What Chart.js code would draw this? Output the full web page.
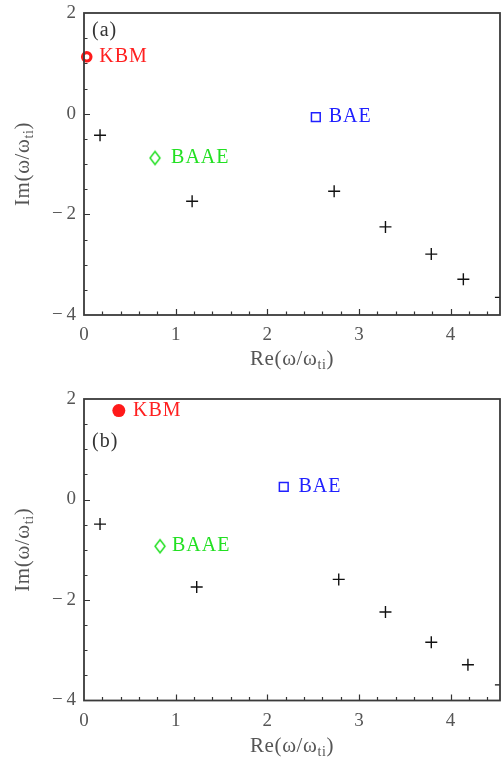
<!DOCTYPE html>
<html>
<head>
<meta charset="utf-8">
<script src="https://cdn.jsdelivr.net/npm/chart.js@4"></script>
<style>
  body { margin: 0; background: #fff; }
  .panel { position: absolute; left: 0; width: 503px; }
</style>
</head>
<body>
<div class="panel" style="top:0;height:380px"><canvas id="chartA" width="503" height="380"></canvas></div>
<div class="panel" style="top:380px;height:378px"><canvas id="chartB" width="503" height="378"></canvas></div>
<script>
// panel (a)
const kbmA = [{ x: 0.03, y: 1.13 }];
const baeA = [{ x: 2.53, y: -0.07 }];
const baaeA = [{ x: 0.775, y: -0.88 }];
const crossA = [
  { x: 0.175, y: -0.43 }, { x: 1.18, y: -1.74 }, { x: 2.73, y: -1.54 },
  { x: 3.29, y: -2.25 }, { x: 3.79, y: -2.79 }, { x: 4.14, y: -3.29 },
  { x: 4.55, y: -3.65 },
];
// panel (b)
const kbmB = [{ x: 0.38, y: 1.77 }];
const baeB = [{ x: 2.18, y: 0.25 }];
const baaeB = [{ x: 0.83, y: -0.93 }];
const crossB = [
  { x: 0.175, y: -0.49 }, { x: 1.23, y: -1.74 }, { x: 2.78, y: -1.59 },
  { x: 3.29, y: -2.24 }, { x: 3.79, y: -2.84 }, { x: 4.19, y: -3.29 },
  { x: 4.55, y: -3.69 },
];

const xTicks = [0, 1, 2, 3, 4];
const yTicks = [-4, -2, 0, 2];

// text labels: [text, x, y, colour] in data units
const notesA = [
  ["(a)", 0.087, 1.64, "#333"],
  ["KBM", 0.167, 1.125, "#ff2020"],
  ["BAE", 2.67, -0.07, "#2020ff"],
  ["BAAE", 0.95, -0.88, "#22e022"],
];
const notesB = [
  ["(b)", 0.087, 1.14, "#333"],
  ["KBM", 0.535, 1.77, "#ff2020"],
  ["BAE", 2.34, 0.25, "#2020ff"],
  ["BAAE", 0.96, -0.93, "#22e022"],
];

const FONT = "'Liberation Serif', serif";

function fmt(v) {
  return v < 0 ? "\u2212\u2009" + Math.abs(v) : String(v);
}

// narrow diamond marker
const diamond = document.createElement("canvas");
diamond.width = 14;
diamond.height = 17;
(function () {
  const c = diamond.getContext("2d");
  c.strokeStyle = "#22e022";
  c.lineWidth = 1.5;
  c.beginPath();
  c.moveTo(7, 2);
  c.lineTo(12, 8.5);
  c.lineTo(7, 15);
  c.lineTo(2, 8.5);
  c.closePath();
  c.stroke();
})();

function drawSubLabel(ctx, main, sub, close, cx, cy, size) {
  ctx.letterSpacing = "0.6px";
  ctx.font = size + "px " + FONT;
  const w1 = ctx.measureText(main).width;
  const w3 = ctx.measureText(close).width;
  ctx.font = Math.round(size * 0.68) + "px " + FONT;
  const w2 = ctx.measureText(sub).width;
  let x = cx - (w1 + w2 + w3) / 2;
  ctx.textAlign = "left";
  ctx.textBaseline = "alphabetic";
  ctx.font = size + "px " + FONT;
  ctx.fillText(main, x, cy);
  x += w1;
  ctx.font = Math.round(size * 0.68) + "px " + FONT;
  ctx.fillText(sub, x, cy + 4);
  x += w2;
  ctx.font = size + "px " + FONT;
  ctx.fillText(close, x, cy);
}

const framePlugin = {
  id: "frame",
  afterDatasetsDraw(chart, args, opts) {
    const ctx = chart.ctx;
    const a = chart.chartArea;
    const xs = chart.scales.x;
    const ys = chart.scales.y;
    ctx.save();
    // notes
    ctx.textBaseline = "middle";
    ctx.textAlign = "left";
    ctx.font = "20px " + FONT;
    ctx.letterSpacing = "1px";
    opts.notes.forEach(([t, x, y, c]) => {
      ctx.fillStyle = c;
      ctx.fillText(t, xs.getPixelForValue(x), ys.getPixelForValue(y));
    });
    // inward ticks
    ctx.strokeStyle = "#333";
    ctx.lineWidth = 1.2;
    ctx.beginPath();
    for (let i = 1; i * 0.2 < xs.max; i++) {
      const v = i * 0.2;
      const px = Math.round(xs.getPixelForValue(v)) + 0.5;
      const len = Math.abs(v - Math.round(v)) < 1e-6 ? 6 : 3.5;
      ctx.moveTo(px, a.bottom);
      ctx.lineTo(px, a.bottom - len);
    }
    for (let v = ys.min + 0.5; v < ys.max; v += 0.5) {
      const py = Math.round(ys.getPixelForValue(v)) + 0.5;
      const len = Math.abs(v / 2 - Math.round(v / 2)) < 1e-6 ? 6 : 3.5;
      ctx.moveTo(a.left, py);
      ctx.lineTo(a.left + len, py);
    }
    ctx.stroke();
    // frame
    ctx.lineWidth = 1.8;
    ctx.strokeStyle = "#3a3a3a";
    ctx.strokeRect(a.left, a.top, a.right - a.left, a.bottom - a.top);
    // axis titles
    ctx.fillStyle = "#555";
    drawSubLabel(ctx, "Re(\u03c9/\u03c9", "ti", ")", (a.left + a.right) / 2, opts.xTitleY, 21);
    ctx.translate(29, (a.top + a.bottom) / 2);
    ctx.rotate(-Math.PI / 2);
    drawSubLabel(ctx, "Im(\u03c9/\u03c9", "ti", ")", 0, 0, 21);
    ctx.restore();
  },
};

function makeChart(id, kbm, kbmFilled, bae, baae, cross, notes, pad, xAxisH, xTitleY) {
  new Chart(document.getElementById(id), {
    type: "scatter",
    data: {
      datasets: [
        {
          data: cross,
          pointStyle: "cross",
          pointRadius: 6,
          borderColor: "#111",
          borderWidth: 1.4,
          clip: 0,
        },
        {
          data: kbm,
          pointStyle: "circle",
          pointRadius: kbmFilled ? 6.5 : 4.2,
          borderWidth: kbmFilled ? 0 : 3.2,
          borderColor: "#ff1a1a",
          backgroundColor: kbmFilled ? "#ff1a1a" : "#fff",
          clip: false,
        },
        {
          data: bae,
          pointStyle: "rect",
          pointRadius: 6.2,
          borderWidth: 1.5,
          borderColor: "#2020ff",
          backgroundColor: "#fff",
        },
        {
          data: baae,
          pointStyle: diamond,
          pointRadius: 6,
        },
      ],
    },
    options: {
      responsive: false,
      animation: false,
      layout: { autoPadding: false, padding: { top: pad, right: 3, left: 0, bottom: 0 } },
      plugins: {
        legend: { display: false },
        tooltip: { enabled: false },
        frame: { notes, xTitleY },
      },
      scales: {
        x: {
          type: "linear",
          min: 0,
          max: 4.54,
          afterBuildTicks: (s) => { s.ticks = xTicks.map((v) => ({ value: v })); },
          afterFit: (s) => { s.height = xAxisH; s.paddingLeft = 0; s.paddingRight = 0; },
          grid: { display: false, drawTicks: false },
          border: { display: false },
          ticks: {
            padding: 9,
            color: "#555",
            font: { family: FONT, size: 19 },
            callback: fmt,
          },
        },
        y: {
          type: "linear",
          min: -4,
          max: 2,
          afterBuildTicks: (s) => { s.ticks = yTicks.map((v) => ({ value: v })); },
          afterFit: (s) => { s.width = 84; s.paddingTop = 0; s.paddingBottom = 0; },
          grid: { display: false, drawTicks: false },
          border: { display: false },
          ticks: {
            padding: 8,
            color: "#555",
            font: { family: FONT, size: 19 },
            callback: fmt,
          },
        },
      },
    },
    plugins: [framePlugin],
  });
}

makeChart("chartA", kbmA, false, baeA, baaeA, crossA, notesA, 13, 65, 365);
makeChart("chartB", kbmB, true, baeB, baaeB, crossB, notesB, 19, 57.5, 371.5);
</script>
</body>
</html>
